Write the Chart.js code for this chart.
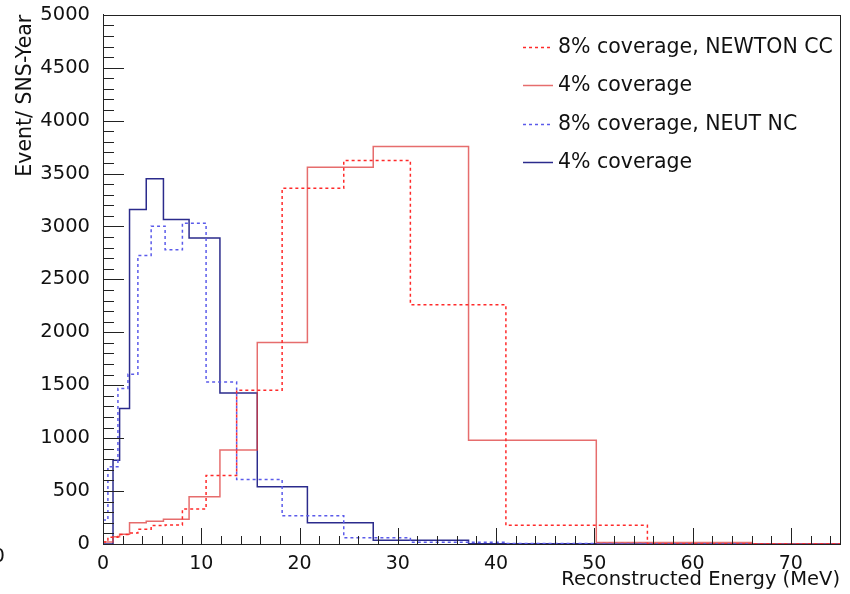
<!DOCTYPE html>
<html>
<head>
<meta charset="utf-8">
<title>Reconstructed Energy</title>
<script src="https://cdn.jsdelivr.net/npm/chart.js@4.4.1/dist/chart.umd.min.js"></script>
<style>
  html, body { margin: 0; padding: 0; background: #fff; }
  #wrap { width: 850px; height: 594px; position: relative; }
</style>
</head>
<body>
<div id="wrap"><canvas id="energyChart" width="850" height="594"></canvas></div>
<script>
// bin edges (MeV) for the two coverage settings
const edges8 = [0, 0.5, 1.52, 2.54, 3.55, 4.9, 6.32, 8.08, 10.49, 13.6, 18.23, 24.5, 31.28, 41.0, 55.4, 75];
const edges4 = [0, 1.02, 1.69, 2.7, 4.4, 6.15, 8.76, 11.9, 15.7, 20.8, 27.5, 37.2, 50.2, 66.0, 75];

// events per SNS-year in each bin
const newtonCC8 = [20, 63, 90, 105, 140, 175, 180, 330, 648, 1453, 3361, 3623, 2261, 176, 0];
const newtonCC4 = [20, 69, 92, 201, 214, 233, 446, 887, 1903, 3560, 3755, 981, 15, 0];
const neutNC8 = [226, 730, 1470, 1604, 2726, 3003, 2780, 3031, 1531, 610, 267, 60, 16, 5, 0];
const neutNC4 = [0, 792, 1280, 3160, 3450, 3066, 2890, 1427, 540, 201, 35, 3, 0, 0];

const legendLabels = ['8% coverage, NEWTON CC', '4% coverage', '8% coverage, NEUT NC', '4% coverage'];

const X_MIN = 0, X_MAX = 75;
const Y_MIN = 0, Y_MAX = 5000;
const FONT = '"DejaVu Sans", "Liberation Sans", Arial, sans-serif';

function histPoints(edges, vals) {
  const pts = vals.map((v, i) => ({ x: edges[i], y: v }));
  pts.push({ x: edges[edges.length - 1], y: vals[vals.length - 1] });
  return pts;
}

function histSet(label, edges, vals, color, dash) {
  return {
    label,
    data: histPoints(edges, vals),
    borderColor: color,
    borderWidth: 1.5,
    borderDash: dash,
    stepped: 'before',
    pointRadius: 0,
    fill: false,
    tension: 0
  };
}

// ROOT-like axes: ticks drawn inward, plus the frame on top and right
const rootAxes = {
  id: 'rootAxes',
  afterDatasetsDraw(chart) {
    const { ctx, chartArea: a, scales: { x, y } } = chart;
    ctx.save();
    ctx.strokeStyle = '#222';
    ctx.lineWidth = 1;
    ctx.beginPath();
    for (let v = Y_MIN; v <= Y_MAX; v += 100) {
      const py = Math.round(y.getPixelForValue(v)) + 0.5;
      const len = v % 500 === 0 ? 21 : 11;
      ctx.moveTo(a.left, py);
      ctx.lineTo(a.left + len, py);
    }
    for (let v = X_MIN; v <= X_MAX; v += 2) {
      const px = Math.round(x.getPixelForValue(v)) + 0.5;
      const len = v % 10 === 0 ? 16 : 8;
      ctx.moveTo(px, a.bottom);
      ctx.lineTo(px, a.bottom - len);
    }
    ctx.stroke();
    ctx.strokeRect(Math.round(a.left) + 0.5, Math.round(a.top) + 0.5,
      Math.round(a.right - a.left), Math.round(a.bottom - a.top));
    ctx.restore();
  }
};

const rootLegend = {
  id: 'rootLegend',
  afterDraw(chart) {
    const { ctx } = chart;
    const rows = [46.5, 85, 123.5, 161.5];
    ctx.save();
    ctx.font = '20.5px ' + FONT;
    ctx.textBaseline = 'middle';
    ctx.fillStyle = '#111';
    chart.data.datasets.forEach((ds, i) => {
      const yy = Math.round(rows[i]) + 0.5;
      ctx.strokeStyle = ds.borderColor;
      ctx.lineWidth = ds.borderWidth;
      ctx.setLineDash(ds.borderDash || []);
      ctx.beginPath();
      ctx.moveTo(523, yy);
      ctx.lineTo(553, yy);
      ctx.stroke();
      ctx.fillText(legendLabels[i], 558, rows[i] + 1);
    });
    ctx.setLineDash([]);
    // clipped zero at the far left edge
    ctx.font = '19.5px ' + FONT;
    ctx.textAlign = 'right';
    ctx.fillText('0', 5, 557);
    ctx.restore();
  }
};

const ctx = document.getElementById('energyChart').getContext('2d');
const chart = new Chart(ctx, {
  type: 'line',
  data: {
    datasets: [
      histSet(legendLabels[0], edges8, newtonCC8, '#ff2a2a', [3, 3]),
      histSet(legendLabels[1], edges4, newtonCC4, 'rgba(222,60,60,0.75)', []),
      histSet(legendLabels[2], edges8, neutNC8, '#5b5bea', [3, 3]),
      histSet(legendLabels[3], edges4, neutNC4, '#2b2b8c', [])
    ]
  },
  options: {
    responsive: false,
    animation: false,
    layout: { padding: { left: 0, right: 10, top: 12, bottom: 0 } },
    plugins: {
      legend: { display: false },
      tooltip: { enabled: false }
    },
    scales: {
      x: {
        type: 'linear',
        min: X_MIN,
        max: X_MAX,
        grid: { display: false },
        border: { display: true, color: '#222', width: 1 },
        ticks: {
          stepSize: 10,
          padding: 1,
          color: '#111',
          font: { family: FONT, size: 19 },
          callback: v => String(v)
        },
        afterBuildTicks(scale) {
          scale.ticks = scale.ticks.filter(t => t.value % 10 === 0);
        },
        afterFit(scale) { scale.height = 50; },
        title: {
          display: true,
          text: 'Reconstructed Energy (MeV)',
          align: 'end',
          color: '#111',
          font: { family: FONT, size: 19.5 },
          padding: { top: 0, bottom: 2 }
        }
      },
      y: {
        min: Y_MIN,
        max: Y_MAX,
        grid: { display: false },
        border: { display: true, color: '#222', width: 1 },
        ticks: {
          stepSize: 500,
          padding: 5,
          color: '#111',
          font: { family: FONT, size: 19.5, lineHeight: 1 },
          callback: v => String(v)
        },
        afterFit(scale) { scale.width = 103; },
        title: {
          display: true,
          text: 'Event/ SNS-Year',
          align: 'end',
          color: '#111',
          font: { family: FONT, size: 20.5 },
          padding: { top: 13, bottom: 0 }
        }
      }
    }
  },
  plugins: [rootAxes, rootLegend]
});
</script>
</body>
</html>
